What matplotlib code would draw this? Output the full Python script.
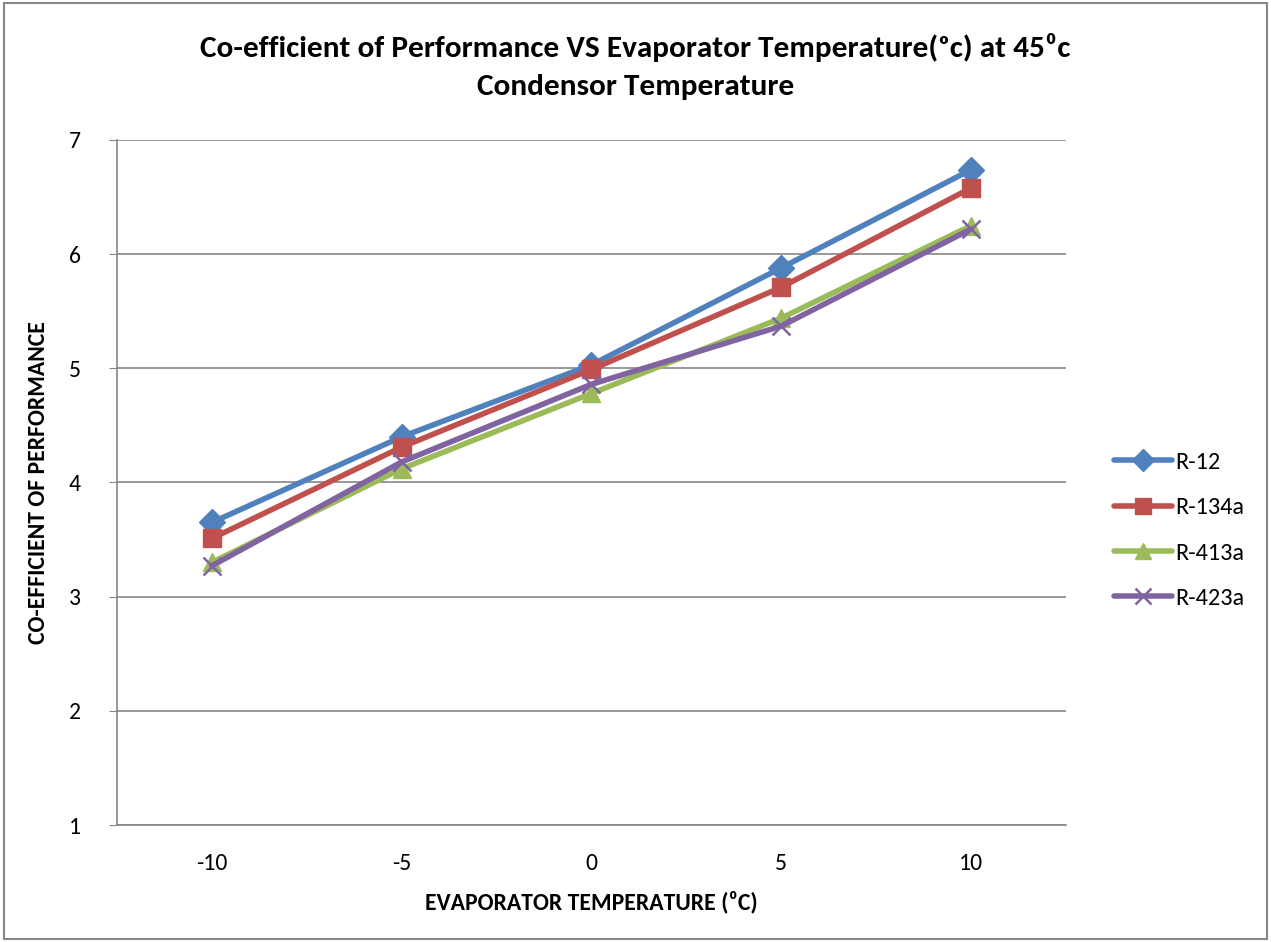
import matplotlib.pyplot as plt
from matplotlib.patches import Rectangle

plt.rcParams['font.family'] = ['Carlito', 'Lato', 'DejaVu Sans']

# Evaporator temperatures (categories)
temps = ['-10', '-5', '0', '5', '10']

# COP values
r12 = [3.65, 4.40, 5.03, 5.88, 6.74]
r134a = [3.51, 4.31, 4.99, 5.71, 6.58]
r413a = [3.30, 4.12, 4.78, 5.44, 6.25]
r423a = [3.27, 4.18, 4.86, 5.37, 6.22]

series = [
    ('R-12', r12, '#4F81BD', 'D'),
    ('R-134a', r134a, '#C0504D', 's'),
    ('R-413a', r413a, '#9BBB59', '^'),
    ('R-423a', r423a, '#8064A2', 'x'),
]

fig = plt.figure(figsize=(12.71, 9.42), dpi=100)
ax = fig.add_axes([0.092, 0.1242, 0.7467, 0.7272])

xs = list(range(len(temps)))
for name, vals, col, mk in series:
    if mk == 'x':
        ax.plot(xs, vals, color=col, lw=4, marker=mk, ms=13, mew=1.8,
                label=name, solid_capstyle='round')
    else:
        ax.plot(xs, vals, color=col, lw=4, marker=mk, ms=13, mec=col,
                label=name, solid_capstyle='round')

ax.set_xlim(-0.5, len(temps) - 0.5)
ax.set_ylim(1, 7)
ax.set_xticks(xs)
ax.set_xticklabels(temps)
ax.set_yticks(range(1, 8))
ax.tick_params(axis='x', length=0, labelsize=17, pad=20)
ax.tick_params(axis='y', length=6, color='#868686', labelsize=17, pad=20)
ax.yaxis.grid(True, color='#868686', lw=1.2)
ax.set_axisbelow(True)
for s in ['top', 'right']:
    ax.spines[s].set_visible(False)
for s in ['left', 'bottom']:
    ax.spines[s].set_color('#868686')
    ax.spines[s].set_linewidth(1.2)

ax.set_xlabel('EVAPORATOR TEMPERATURE (\u2070C)', fontsize=17, fontweight='bold', labelpad=12)
ax.set_ylabel('CO-EFFICIENT OF PERFORMANCE', fontsize=17, fontweight='bold', labelpad=14)

fig.text(0.5, 0.965, 'Co-efficient of Performance VS Evaporator Temperature(\u1d52c) at 45\u2070c\nCondensor Temperature',
         ha='center', va='top', fontsize=22.5, fontweight='bold', linespacing=1.55)

ax.legend(loc='center left', bbox_to_anchor=(1.04, 0.43), frameon=False, fontsize=17.5,
          handlelength=2.4, handletextpad=0.15, labelspacing=1.0, borderaxespad=0,
          markerscale=0.85)

fig.patches.append(Rectangle((0.003, 0.003), 0.994, 0.994, transform=fig.transFigure,
                             fill=False, edgecolor='#868686', lw=1.5))

fig.savefig('out.png', dpi=100)
